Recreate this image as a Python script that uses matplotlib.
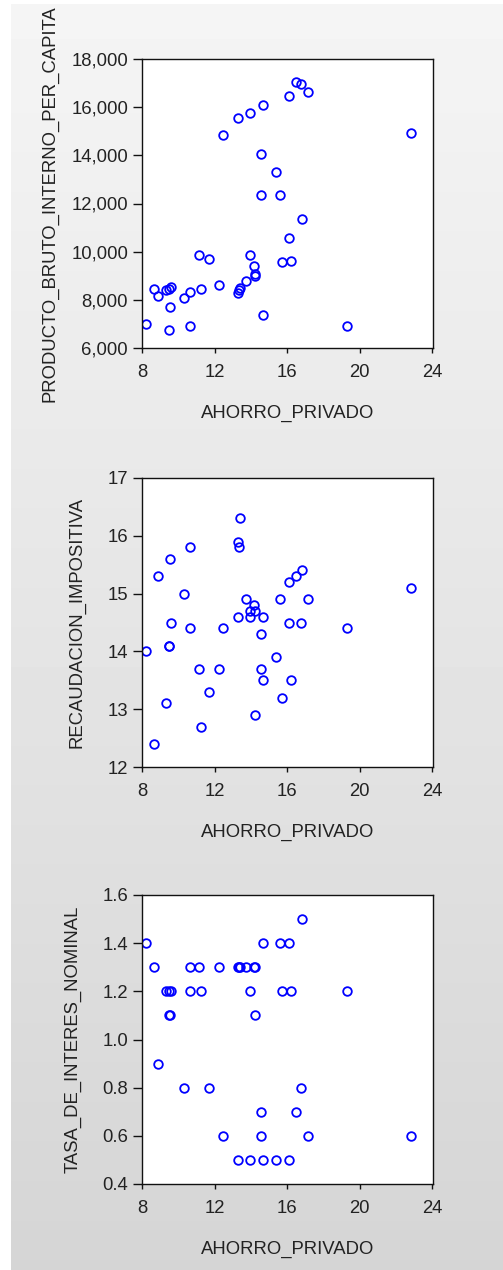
import matplotlib.pyplot as plt
import numpy as np
from matplotlib.ticker import FuncFormatter, MultipleLocator

ahorro_privado = [8.24, 8.65, 8.87, 9.35, 9.48, 9.49, 9.57, 9.62, 10.30, 10.62,
                  10.64, 11.15, 11.25, 11.67, 12.27, 12.48, 13.28, 13.31, 13.35, 13.42,
                  13.72, 13.93, 13.94, 14.16, 14.23, 14.25, 14.56, 14.57, 14.66, 14.67,
                  15.37, 15.59, 15.70, 16.10, 16.12, 16.22, 16.50, 16.75, 16.84, 17.16,
                  19.32, 22.86]
pbi_per_capita = [7000, 8460, 8150, 8400, 6760, 8470, 7700, 8550, 8090, 8310,
                  6900, 9850, 8460, 9710, 8610, 14840, 8290, 15550, 8400, 8490,
                  8780, 15775, 9850, 9390, 9070, 9000, 14065, 12355, 16095, 7377,
                  13300, 12355, 9560, 16484, 10561, 9629, 17040, 16957, 11340, 16637,
                  6904, 14927]
recaudacion = [14.0, 12.4, 15.3, 13.1, 14.1, 14.1, 15.6, 14.5, 15.0, 14.4,
               15.8, 13.7, 12.7, 13.3, 13.7, 14.4, 14.6, 15.9, 15.8, 16.3,
               14.9, 14.7, 14.6, 14.8, 14.7, 12.9, 14.3, 13.7, 14.6, 13.5,
               13.9, 14.9, 13.2, 15.2, 14.5, 13.5, 15.3, 14.5, 15.4, 14.9,
               14.4, 15.1]
tasa_interes = [1.4, 1.3, 0.9, 1.2, 1.1, 1.2, 1.1, 1.2, 0.8, 1.2,
                1.3, 1.3, 1.2, 0.8, 1.3, 0.6, 1.3, 0.5, 1.3, 1.3,
                1.3, 0.5, 1.2, 1.3, 1.1, 1.3, 0.7, 0.6, 1.4, 0.5,
                0.5, 1.4, 1.2, 1.4, 0.5, 1.2, 0.7, 0.8, 1.5, 0.6,
                1.2, 0.6]

# values, y label, y range, tick step, tick format, bottom edge (px), y label pad
panels = [
    (pbi_per_capita, 'PRODUCTO_BRUTO_INTERNO_PER_CAPITA', (6000, 18000), 2000,
     lambda v, p: f'{v:,.0f}', 348, 9),
    (recaudacion, 'RECAUDACION_IMPOSITIVA', (12, 17), 1,
     lambda v, p: f'{v:.0f}', 767, 16),
    (tasa_interes, 'TASA_DE_INTERES_NOMINAL', (0.4, 1.6), 0.2,
     lambda v, p: f'{v:.1f}', 1184, 15),
]

W, H = 503, 1270
fig = plt.figure(figsize=(W / 100, H / 100), dpi=100, facecolor='white')
plt.rcParams['font.family'] = ['Liberation Sans', 'DejaVu Sans']

# gray gradient behind the three panels
bg = fig.add_axes([11 / W, 0, 1 - 11 / W, 1 - 4 / H], zorder=-10)
grad = np.linspace(0.96, 0.835, 256).reshape(-1, 1)
bg.imshow(grad, aspect='auto', cmap='gray', vmin=0, vmax=1, extent=(0, 1, 0, 1), origin='upper')
bg.axis('off')

txt = '#222222'
for yvals, ylabel, ylim, step, fmt, bottom_px, ypad in panels:
    ax = fig.add_axes([142 / W, 1 - bottom_px / H, 291 / W, 289 / H])
    ax.set_facecolor('white')
    ax.plot(ahorro_privado, yvals, 'o', mfc='none', mec='#0000ff', ms=6.2, mew=1.3)
    ax.set_xlim(8, 24.05)
    ax.set_ylim(*ylim)
    ax.xaxis.set_major_locator(MultipleLocator(4))
    ax.yaxis.set_major_locator(MultipleLocator(step))
    ax.yaxis.set_major_formatter(FuncFormatter(fmt))
    for s in ax.spines.values():
        s.set_linewidth(1.0)
        s.set_color('#111111')
    ax.tick_params(axis='y', direction='out', length=6.5, width=1, pad=3.5,
                   labelsize=13.3, colors='#111111', labelcolor=txt)
    ax.tick_params(axis='x', direction='out', length=3.5, width=1, pad=8,
                   labelsize=13.3, colors='#111111', labelcolor=txt)
    ax.set_xlabel('AHORRO_PRIVADO', fontsize=13.3, color=txt, labelpad=17)
    ax.set_ylabel(ylabel, fontsize=13.3, color=txt, labelpad=ypad)

fig.savefig('out.png', dpi=100)
